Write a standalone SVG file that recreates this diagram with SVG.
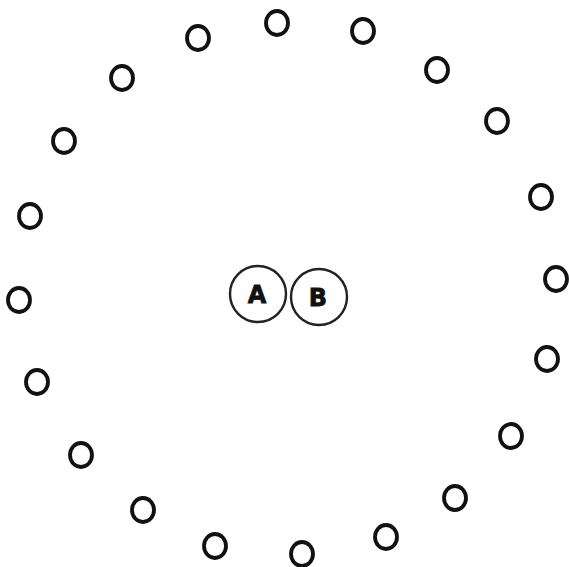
<svg xmlns="http://www.w3.org/2000/svg" width="569" height="567" viewBox="0 0 569 567">
<style>
.s{fill:none;stroke:#111;stroke-width:3.8}
.n{fill:#fff;stroke:#222;stroke-width:2.4}
.t{font-family:"DejaVu Sans","Liberation Sans",sans-serif;font-weight:bold;font-size:24px;fill:#111;stroke:#111;stroke-width:0.8;text-anchor:middle}
</style>
<rect width="569" height="567" fill="#fff"/>
<g id="connectors"></g>
<g id="ring">
<ellipse id="r1" class="s" cx="277" cy="23" rx="11" ry="12"/>
<ellipse id="r2" class="s" cx="363" cy="31" rx="11" ry="12"/>
<ellipse id="r3" class="s" cx="437" cy="70" rx="11" ry="12"/>
<ellipse id="r4" class="s" cx="497" cy="121" rx="11" ry="12"/>
<ellipse id="r5" class="s" cx="541" cy="197" rx="11" ry="12"/>
<ellipse id="r6" class="s" cx="556" cy="279" rx="11" ry="12"/>
<ellipse id="r7" class="s" cx="547" cy="359" rx="11" ry="12"/>
<ellipse id="r8" class="s" cx="511" cy="436" rx="11" ry="12"/>
<ellipse id="r9" class="s" cx="455" cy="498" rx="11" ry="12"/>
<ellipse id="r10" class="s" cx="386" cy="537" rx="11" ry="12"/>
<ellipse id="r11" class="s" cx="302" cy="554" rx="11" ry="12"/>
<ellipse id="r12" class="s" cx="215" cy="546" rx="11" ry="12"/>
<ellipse id="r13" class="s" cx="143" cy="510" rx="11" ry="12"/>
<ellipse id="r14" class="s" cx="81" cy="455" rx="11" ry="12"/>
<ellipse id="r15" class="s" cx="37" cy="382" rx="11" ry="12"/>
<ellipse id="r16" class="s" cx="19" cy="300" rx="11" ry="12"/>
<ellipse id="r17" class="s" cx="30" cy="216" rx="11" ry="12"/>
<ellipse id="r18" class="s" cx="64" cy="141" rx="11" ry="12"/>
<ellipse id="r19" class="s" cx="122" cy="78" rx="11" ry="12"/>
<ellipse id="r20" class="s" cx="198" cy="38" rx="11" ry="12"/>
</g>
<g id="nodeA">
<circle class="n" cx="258" cy="294" r="28"/>
<text class="t" x="257" y="303">A</text>
</g>
<g id="nodeB">
<circle class="n" cx="319" cy="297" r="28"/>
<text class="t" x="318" y="306">B</text>
</g>
</svg>
